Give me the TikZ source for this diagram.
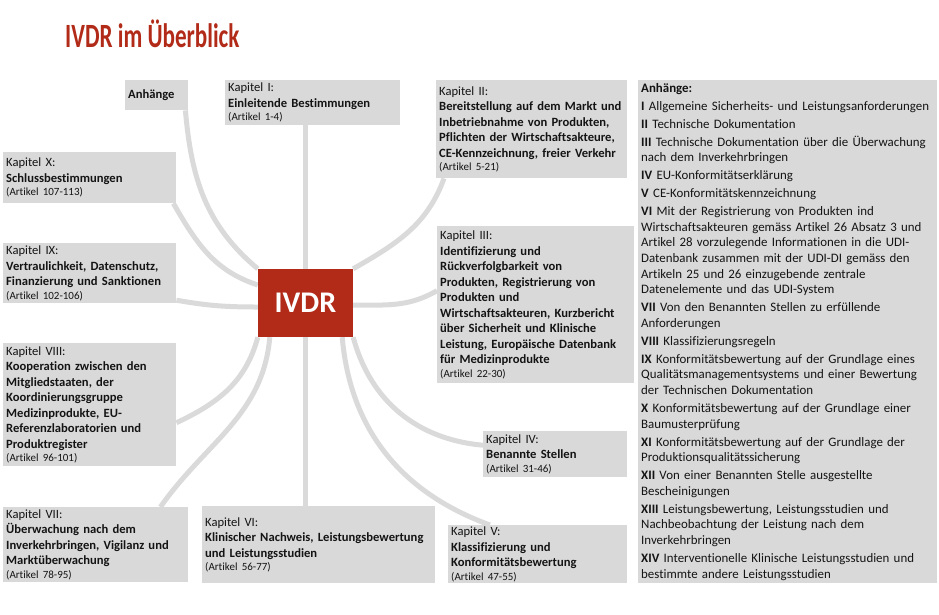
\documentclass[tikz,border=0pt]{standalone}
\usepackage{fontspec}
\usepackage{graphicx}
\setmainfont{Carlito}[Ligatures=NoCommon]
\usetikzlibrary{backgrounds}
\definecolor{ivdrred}{HTML}{B22A18}
\definecolor{boxgray}{HTML}{D9D9D9}
\definecolor{linkgray}{HTML}{DADADA}
\definecolor{txtcol}{HTML}{141414}
\newcommand{\artikel}[1]{\\[-2pt]{\fontsize{11}{13}\selectfont (Artikel #1)}}

\begin{document}
\begin{tikzpicture}[x=1pt, y=-1pt,
    kbox/.style={rectangle, fill=boxgray, anchor=north west, inner xsep=3pt, inner ysep=1pt, align=left, text=txtcol, font=\fontsize{12.6}{15.5}\selectfont},
    core/.style={rectangle, fill=ivdrred, minimum width=95pt, minimum height=68pt, text=white, font=\fontsize{30}{32}\selectfont\bfseries},
    link/.style={draw=linkgray, line width=5pt},
    ttl/.style={text=ivdrred, font=\fontsize{34}{36}\selectfont\bfseries, inner sep=0pt},
  ]
    \useasboundingbox (0,0) rectangle (939,614);
    \node[ttl, anchor=base west] (title) at (65,47) {\scalebox{0.68}[1]{IVDR im Überblick}};

    \node[core] (ivdr) at (305.5,303) {IVDR};

    \node[kbox, text width=57pt, minimum height=30pt] (anh) at (125,80) {\textbf{Anhänge}};
    \node[kbox, text width=169pt, minimum height=45pt] (kap1) at (225,80) {Kapitel I:\\\textbf{Einleitende Bestimmungen}\artikel{1-4}};
    \node[kbox, text width=185pt, minimum height=98pt] (kap2) at (436,80) {Kapitel II:\\\textbf{Bereitstellung auf dem Markt und}\\\textbf{Inbetriebnahme von Produkten,}\\\textbf{Pflichten der Wirtschaftsakteure,}\\\textbf{CE-Kennzeichnung, freier Verkehr}\artikel{5-21}};
    \node[kbox, text width=191pt, minimum height=157pt] (kap3) at (437,226) {Kapitel III:\\\textbf{Identifizierung und}\\\textbf{Rückverfolgbarkeit von}\\\textbf{Produkten, Registrierung von}\\\textbf{Produkten und}\\\textbf{Wirtschaftsakteuren, Kurzbericht}\\\textbf{über Sicherheit und Klinische}\\\textbf{Leistung, Europäische Datenbank}\\\textbf{für Medizinprodukte}\artikel{22-30}};
    \node[kbox, text width=138pt, minimum height=46pt] (kap4) at (483,431) {Kapitel IV:\\\textbf{Benannte Stellen}\artikel{31-46}};
    \node[kbox, text width=173pt, minimum height=58pt] (kap5) at (448,525) {Kapitel V:\\\textbf{Klassifizierung und}\\\textbf{Konformitätsbewertung}\artikel{47-55}};
    \node[kbox, text width=227pt, minimum height=77pt] (kap6) at (202,506) {Kapitel VI:\\\textbf{Klinischer Nachweis, Leistungsbewertung}\\\textbf{und Leistungsstudien}\artikel{56-77}};
    \node[kbox, text width=179pt, minimum height=75pt] (kap7) at (3,507) {Kapitel VII:\\\textbf{Überwachung nach dem}\\\textbf{Inverkehrbringen, Vigilanz und}\\\textbf{Marktüberwachung}\artikel{78-95}};
    \node[kbox, text width=167pt, minimum height=123pt] (kap8) at (3,343) {Kapitel VIII:\\\textbf{Kooperation zwischen den}\\\textbf{Mitgliedstaaten, der}\\\textbf{Koordinierungsgruppe}\\\textbf{Medizinprodukte, EU-}\\\textbf{Referenzlaboratorien und}\\\textbf{Produktregister}\artikel{96-101}};
    \node[kbox, text width=167pt, minimum height=60pt] (kap9) at (3,243) {Kapitel IX:\\\textbf{Vertraulichkeit, Datenschutz,}\\\textbf{Finanzierung und Sanktionen}\artikel{102-106}};
    \node[kbox, text width=167pt, minimum height=51pt] (kap10) at (3,152) {Kapitel X:\\\textbf{Schlussbestimmungen}\artikel{107-113}};

    \node[kbox, text width=293pt, minimum height=503pt, font=\fontsize{12.9}{15.6}\selectfont] (annex) at (638,80) {\textbf{Anhänge:}\\[2.4pt]
      \textbf{I} Allgemeine Sicherheits- und Leistungsanforderungen\\[2.4pt]
      \textbf{II} Technische Dokumentation\\[2.4pt]
      \textbf{III} Technische Dokumentation über die Überwachung\\nach dem Inverkehrbringen\\[2.4pt]
      \textbf{IV} EU-Konformitätserklärung\\[2.4pt]
      \textbf{V} CE-Konformitätskennzeichnung\\[2.4pt]
      \textbf{VI} Mit der Registrierung von Produkten ind\\Wirtschaftsakteuren gemäss Artikel 26 Absatz 3 und\\Artikel 28 vorzulegende Informationen in die UDI-\\Datenbank zusammen mit der UDI-DI gemäss den\\Artikeln 25 und 26 einzugebende zentrale\\Datenelemente und das UDI-System\\[2.4pt]
      \textbf{VII} Von den Benannten Stellen zu erfüllende\\Anforderungen\\[2.4pt]
      \textbf{VIII} Klassifizierungsregeln\\[2.4pt]
      \textbf{IX} Konformitätsbewertung auf der Grundlage eines\\Qualitätsmanagementsystems und einer Bewertung\\der Technischen Dokumentation\\[2.4pt]
      \textbf{X} Konformitätsbewertung auf der Grundlage einer\\Baumusterprüfung\\[2.4pt]
      \textbf{XI} Konformitätsbewertung auf der Grundlage der\\Produktionsqualitätssicherung\\[2.4pt]
      \textbf{XII} Von einer Benannten Stelle ausgestellte\\Bescheinigungen\\[2.4pt]
      \textbf{XIII} Leistungsbewertung, Leistungsstudien und\\Nachbeobachtung der Leistung nach dem\\Inverkehrbringen\\[2.4pt]
      \textbf{XIV} Interventionelle Klinische Leistungsstudien und\\bestimmte andere Leistungsstudien};

    \begin{scope}[on background layer]
      \draw[link] ([xshift=-3pt]anh.south east) to[out=-85, in=140] (ivdr.north west);
      \draw[link] ([xshift=-3pt]kap10.south east) to[out=-60, in=162] ([yshift=18pt]ivdr.west);
      \draw[link] ([yshift=-27pt]kap9.east) to[out=-10, in=180] ([yshift=-4pt]ivdr.west);
      \draw[link] (ivdr.south west) to[out=-105, in=25] ([yshift=-18pt]kap8.east);
      \draw[link] ([xshift=12pt]ivdr.south west) to[out=-95, in=55] ([xshift=-28pt]kap7.north east);
      \draw[link] (ivdr.south) -- (ivdr.south |- kap6.north);
      \draw[link] ([xshift=-11pt]ivdr.south east) to[out=-85, in=160] ([xshift=42pt]kap5.north west);
      \draw[link] (ivdr.south east) to[out=-75, in=175] ([yshift=9pt]kap4.west);
      \draw[link] ([yshift=-2pt]ivdr.east) to[out=0, in=-150] ([yshift=14pt]kap3.west);
      \draw[link] (ivdr.north east) to[out=30, in=-110] ([xshift=8pt]kap2.south west);
      \draw[link] (ivdr.north) -- (ivdr.north |- kap1.south);
    \end{scope}
  \end{tikzpicture}
\end{document}
